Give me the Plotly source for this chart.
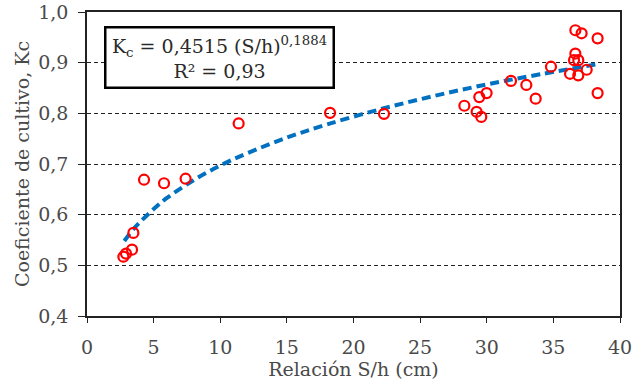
import plotly.graph_objects as go

# Observed data (S/h in cm, Kc)
sh_obs = [2.73, 2.93, 3.38, 3.48, 4.28, 5.78, 7.40, 11.38, 18.24, 22.29,
          28.32, 29.44, 29.99, 29.24, 29.59, 31.82, 32.97, 33.67, 34.82,
          36.25, 36.65, 37.12, 36.65, 36.55, 36.87, 36.87, 37.50, 38.32, 38.32]
kc_obs = [0.517, 0.523, 0.531, 0.564, 0.669, 0.662, 0.671, 0.780, 0.801, 0.799,
          0.815, 0.832, 0.840, 0.803, 0.793, 0.864, 0.856, 0.829, 0.892,
          0.878, 0.964, 0.958, 0.918, 0.905, 0.905, 0.875, 0.886, 0.948, 0.840]

# Trend line
trend_x = [2.8, 3.5, 4, 5, 6, 8, 10, 12, 15, 18, 22, 26, 30, 34, 38.3]
trend_y = [0.548, 0.572, 0.586, 0.611, 0.633, 0.668, 0.697, 0.721, 0.752,
           0.778, 0.808, 0.834, 0.857, 0.877, 0.897]

x_ticks = [0, 5, 10, 15, 20, 25, 30, 35, 40]
y_ticks = [0.4, 0.5, 0.6, 0.7, 0.8, 0.9, 1.0]

FONT = "DejaVu Serif, serif"
TXT = "#4a4a4a"
FS = 19

fig = go.Figure()
fig.add_trace(go.Scatter(
    x=trend_x, y=trend_y, mode="lines",
    line=dict(color="#0070C0", width=4, dash="9px,5px", shape="spline"),
    showlegend=False, hoverinfo="skip"))
fig.add_trace(go.Scatter(
    x=sh_obs, y=kc_obs, mode="markers",
    marker=dict(symbol="circle-open", size=10, color="#FF0000",
                line=dict(width=2.2, color="#FF0000")),
    showlegend=False))

fig.update_layout(
    width=643, height=386,
    margin=dict(l=87, r=23, t=12, b=70, autoexpand=False),
    paper_bgcolor="white", plot_bgcolor="white",
    separators=", ",
    font=dict(family=FONT, size=FS, color=TXT),
    xaxis=dict(range=[0, 40], tickvals=x_ticks, showgrid=False, zeroline=False,
               automargin=False,
               showline=True, linecolor="#222", linewidth=1.5, mirror=True,
               ticks="outside", ticklen=5, tickcolor="#222",
               ticklabelstandoff=8,
               tickfont=dict(family=FONT, size=FS, color=TXT),
               title=dict(text="Relación S/h (cm)", standoff=4,
                          font=dict(family=FONT, size=FS, color=TXT))),
    yaxis=dict(range=[0.4, 1.0], tickvals=y_ticks, tickformat=".1f",
               showgrid=True, gridcolor="#222", griddash="4px,3px", gridwidth=1,
               zeroline=False, automargin=False,
               showline=True, linecolor="#222", linewidth=1.5, mirror=True,
               ticks="outside", ticklen=7, tickcolor="#222",
               ticklabelstandoff=6,
               tickfont=dict(family=FONT, size=FS, color=TXT),
               title=dict(text="Coeficiente de cultivo, Kc", standoff=4,
                          font=dict(family=FONT, size=FS, color=TXT))),
)

fig.add_annotation(
    xref="paper", yref="paper", x=0.2477, y=0.850,
    xanchor="center", yanchor="middle", showarrow=False,
    text="K<sub>c</sub> = 0,4515 (S/h)<sup>0,1884</sup><br>R² = 0,93",
    align="center", width=222, height=54,
    font=dict(family=FONT, size=FS, color="#2a2a2a"),
    bordercolor="#000", borderwidth=2.5, borderpad=2, bgcolor="white")

fig.write_html("out.html", config={"displayModeBar": False},
               post_script="document.body.style.margin='0';")
